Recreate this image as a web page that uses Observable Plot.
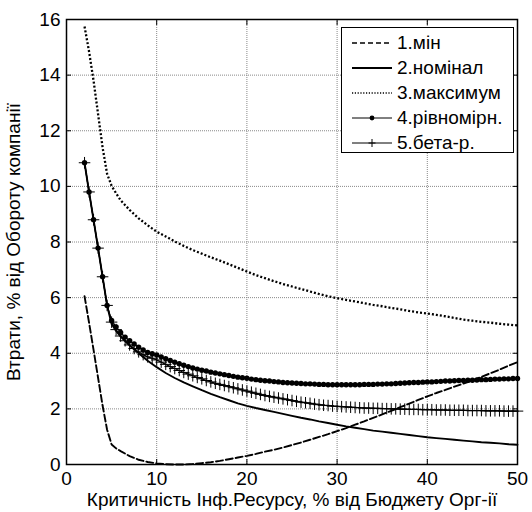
<!DOCTYPE html>
<html><head><meta charset="utf-8">
<script src="https://cdn.jsdelivr.net/npm/d3@7"></script>
<script src="https://cdn.jsdelivr.net/npm/@observablehq/plot@0.6"></script>
<style>
body{margin:0;background:#fff;font-family:"Liberation Sans",Arial,sans-serif;}
#wrap{position:relative;width:532px;height:512px;}
#legend{position:absolute;left:341px;top:27px;width:171px;height:124px;border:1.5px solid #000;background:#fff;}
.row{position:absolute;left:0;height:25px;display:flex;align-items:center;font-size:19px;color:#000;white-space:nowrap;}
.row svg{margin-left:10px;margin-right:5px;}
</style></head>
<body><div id="wrap"><div id="legend"></div></div>
<script>
const xTicks = [0, 10, 20, 30, 40, 50];
const yTicks = [0, 2, 4, 6, 8, 10, 12, 14, 16];
const seriesNames = ["1.мін", "2.номінал", "3.максимум", "4.рівномірн.", "5.бета-р."];

const xCurve = [2,2.5,3,3.5,4,4.5,5,5.5,6,7,8,9,10,11,12,13,14,15,16,17,18,19,20,21,22,23,24,25,26,27,28,29,30,31,32,33,34,35,36,37,38,39,40,41,42,43,44,45,46,47,48,49,50];
const yMin = [6.05,5.1,4.12,3.12,2.12,1.25,0.72,0.58,0.48,0.3,0.17,0.09,0.04,0.01,0.0,0.0,0.02,0.05,0.08,0.13,0.19,0.25,0.31,0.38,0.46,0.53,0.61,0.7,0.79,0.89,0.99,1.09,1.2,1.31,1.43,1.55,1.68,1.8,1.93,2.06,2.19,2.32,2.45,2.57,2.68,2.8,2.91,3.02,3.15,3.28,3.41,3.55,3.68];
const yNom = [10.85,9.8,8.8,7.78,6.75,5.72,5.05,4.8,4.6,4.28,4.0,3.73,3.5,3.29,3.11,2.95,2.81,2.67,2.54,2.42,2.31,2.2,2.11,2.03,1.96,1.89,1.82,1.75,1.68,1.62,1.55,1.49,1.43,1.37,1.32,1.27,1.22,1.18,1.14,1.1,1.06,1.02,0.98,0.95,0.92,0.89,0.86,0.83,0.8,0.78,0.76,0.73,0.71];
const yMax = [15.75,14.85,13.8,12.6,11.4,10.45,10.02,9.75,9.5,9.15,8.85,8.6,8.37,8.2,8.02,7.86,7.71,7.58,7.45,7.33,7.2,7.07,6.94,6.81,6.7,6.59,6.49,6.4,6.31,6.22,6.13,6.05,5.98,5.92,5.86,5.8,5.74,5.69,5.63,5.58,5.52,5.47,5.43,5.38,5.33,5.27,5.21,5.17,5.13,5.1,5.06,5.03,5.0];

const xMark = [2,2.5,3,3.5,4,4.5,5,5.5,6,6.5,7,7.5,8,8.5,9,9.5,10,10.5,11,11.5,12,12.5,13,13.5,14,14.5,15,15.5,16,16.5,17,17.5,18,18.5,19,19.5,20,20.5,21,21.5,22,22.5,23,23.5,24,24.5,25,25.5,26,26.5,27,27.5,28,28.5,29,29.5,30,30.5,31,31.5,32,32.5,33,33.5,34,34.5,35,35.5,36,36.5,37,37.5,38,38.5,39,39.5,40,40.5,41,41.5,42,42.5,43,43.5,44,44.5,45,45.5,46,46.5,47,47.5,48,48.5,49,49.5,50];
const yUni = [10.85,9.8,8.8,7.78,6.75,5.72,5.18,4.95,4.75,4.58,4.45,4.33,4.22,4.12,4.03,3.98,3.94,3.87,3.8,3.74,3.68,3.62,3.57,3.52,3.47,3.43,3.39,3.36,3.32,3.29,3.26,3.23,3.2,3.17,3.14,3.12,3.1,3.07,3.05,3.03,3.01,3.0,2.98,2.97,2.95,2.94,2.93,2.92,2.91,2.9,2.9,2.89,2.88,2.88,2.87,2.87,2.87,2.87,2.87,2.87,2.87,2.87,2.88,2.88,2.88,2.89,2.89,2.9,2.9,2.91,2.92,2.93,2.94,2.95,2.95,2.96,2.97,2.97,2.98,2.99,3.0,3.0,3.01,3.02,3.02,3.03,3.03,3.04,3.05,3.05,3.06,3.07,3.07,3.08,3.08,3.09,3.09];
const yBeta = [10.85,9.8,8.8,7.78,6.75,5.72,5.12,4.85,4.62,4.45,4.3,4.17,4.05,3.95,3.87,3.82,3.76,3.68,3.6,3.52,3.45,3.38,3.31,3.25,3.19,3.13,3.08,3.02,2.97,2.92,2.88,2.84,2.8,2.76,2.72,2.68,2.64,2.6,2.56,2.52,2.48,2.45,2.42,2.39,2.36,2.33,2.3,2.27,2.24,2.22,2.2,2.17,2.15,2.13,2.12,2.1,2.09,2.08,2.07,2.06,2.05,2.04,2.03,2.03,2.02,2.02,2.01,2.01,2.0,2.0,1.99,1.99,1.98,1.98,1.98,1.97,1.97,1.97,1.96,1.96,1.96,1.95,1.95,1.95,1.95,1.94,1.94,1.94,1.94,1.93,1.93,1.93,1.93,1.92,1.92,1.92,1.92];

const curve = (ys) => xCurve.map((x, i) => ({x, y: ys[i]}));
const marked = (ys) => xMark.map((x, i) => ({x, y: ys[i]}));
const dMin = curve(yMin), dNom = curve(yNom), dMax = curve(yMax);
const dUni = marked(yUni), dBeta = marked(yBeta);

const FONT = '"Liberation Sans", Arial, sans-serif';
const chart = Plot.plot({
  width: 532, height: 512,
  marginLeft: 66, marginRight: 15, marginTop: 19, marginBottom: 48,
  x: {domain: [0, 50], ticks: xTicks},
  y: {domain: [0, 16], ticks: yTicks},
  style: {fontFamily: FONT, fontSize: "18px", color: "#000", background: "#fff"},
  marks: [
    Plot.gridX(xTicks, {stroke: "#888", strokeOpacity: 1, strokeDasharray: "1,1"}),
    Plot.gridY(yTicks, {stroke: "#888", strokeOpacity: 1, strokeDasharray: "1,1"}),
    Plot.line(dMin, {x: "x", y: "y", stroke: "#000", strokeWidth: 1.9, strokeDasharray: "7,3"}),
    Plot.line(dNom, {x: "x", y: "y", stroke: "#000", strokeWidth: 1.9}),
    Plot.line(dMax, {x: "x", y: "y", stroke: "#000", strokeWidth: 2.3, strokeDasharray: "2,2", strokeLinecap: "butt"}),
    Plot.line(dBeta, {x: "x", y: "y", stroke: "#000", strokeWidth: 1.2}),
    Plot.dot(dBeta, {x: "x", y: "y", symbol: "plus", stroke: "#000", strokeWidth: 1, r: 3.8}),
    Plot.line(dUni, {x: "x", y: "y", stroke: "#000", strokeWidth: 1.2}),
    Plot.dot(dUni, {x: "x", y: "y", fill: "#000", stroke: "none", r: 2.7}),
    Plot.frame({stroke: "#000", strokeWidth: 1.5}),
    Plot.axisX(xTicks, {anchor: "bottom", tickSize: -5, tickFormat: () => "", label: null}),
    Plot.axisX(xTicks, {anchor: "top", tickSize: -5, tickFormat: () => "", label: null}),
    Plot.axisY(yTicks, {anchor: "left", tickSize: -5, tickFormat: () => "", label: null}),
    Plot.axisY(yTicks, {anchor: "right", tickSize: -5, tickFormat: () => "", label: null}),
    Plot.axisX(xTicks, {tickSize: 0, tickPadding: 7, fontSize: 19, label: "Критичність Інф.Ресурсу, % від Бюджету Орг-ії", labelAnchor: "center", labelArrow: "none", labelOffset: 41}),
    Plot.axisY(yTicks, {tickSize: 0, tickPadding: 6, fontSize: 19, label: "Втрати, % від Обороту компанії", labelAnchor: "center", labelArrow: "none", labelOffset: 60})
  ]
});
document.getElementById("wrap").prepend(chart);

// legend (inside plot area, like the original)
const legend = document.getElementById("legend");
const sample = [
  '<line x1="0" y1="6" x2="40" y2="6" stroke="#000" stroke-width="1.6" stroke-dasharray="5,3"/>',
  '<line x1="0" y1="6" x2="40" y2="6" stroke="#000" stroke-width="1.8"/>',
  '<line x1="0" y1="6" x2="40" y2="6" stroke="#000" stroke-width="1.4" stroke-dasharray="1.2,1.6"/>',
  '<line x1="0" y1="6" x2="40" y2="6" stroke="#000" stroke-width="1"/><circle cx="20" cy="6" r="2.4" fill="#000"/>',
  '<line x1="0" y1="6" x2="40" y2="6" stroke="#000" stroke-width="1"/><path d="M16.5,6H23.5M20,2V10" stroke="#000" stroke-width="1"/>'
];
seriesNames.forEach((name, i) => {
  const row = document.createElement("div");
  row.className = "row";
  row.style.top = (2 + i * 25) + "px";
  row.innerHTML = `<svg width="40" height="12">${sample[i]}</svg><span>${name}</span>`;
  legend.appendChild(row);
});
const svg = document.querySelector("#wrap svg");
svg.style.position = "absolute"; svg.style.left = "0"; svg.style.top = "0";
</script>
</body></html>
